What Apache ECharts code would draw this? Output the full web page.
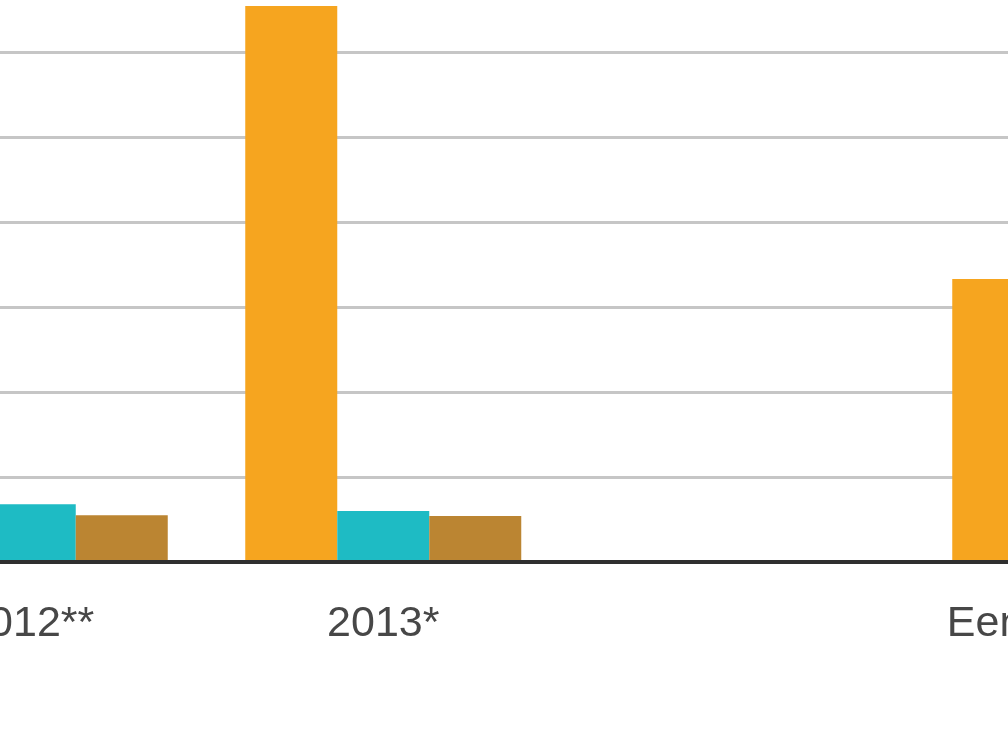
<!DOCTYPE html>
<html>
<head>
<meta charset="utf-8">
<script src="https://cdn.jsdelivr.net/npm/echarts@6/dist/echarts.min.js"></script>
<style>
  html, body { margin: 0; padding: 0; background: #fff; overflow: hidden; width: 1008px; height: 756px; }
  /* the picture is a crop of a wider chart, so the chart box runs past the window */
  #chart { position: absolute; left: -147px; top: -33px; width: 1414px; height: 789px; }
</style>
</head>
<body>
<div id="chart"></div>
<script>
// categories (the middle one is an empty slot in the picture)
var categories = ["2012**", "2013*", "", "Eenmalig 2014"];
// values, one gridline step = 10
var seriesOrange = [null, 65.4, null, 33.3];
var seriesTeal = [6.8, 6.0, null, null];
var seriesBrown = [5.5, 5.4, null, null];

var myChart = echarts.init(document.getElementById("chart"));

var option = {
  animation: false,
  color: ["#F6A51F", "#1EBBC4", "#BB8532"],
  grid: {
    left: 0,
    right: 0,
    top: 0,
    bottom: 194,
    containLabel: false
  },
  xAxis: {
    type: "category",
    data: categories,
    z: 10,
    axisTick: { show: false },
    axisLine: { lineStyle: { color: "#2f2f2f", width: 4 } },
    axisLabel: {
      interval: 0,
      margin: 41,
      fontSize: 43,
      fontFamily: "Liberation Sans",
      color: "#474747"
    }
  },
  yAxis: {
    type: "value",
    min: 0,
    max: 70,
    interval: 10,
    axisLabel: { show: false },
    axisLine: { show: false },
    axisTick: { show: false },
    splitLine: { lineStyle: { color: "#c6c6c6", width: 3 } }
  },
  series: [
    { name: "a", type: "bar", data: seriesOrange, barWidth: 92, barGap: "0%" },
    { name: "b", type: "bar", data: seriesTeal, barWidth: 92, barGap: "0%" },
    { name: "c", type: "bar", data: seriesBrown, barWidth: 92, barGap: "0%" }
  ]
};

myChart.setOption(option);
</script>
</body>
</html>
